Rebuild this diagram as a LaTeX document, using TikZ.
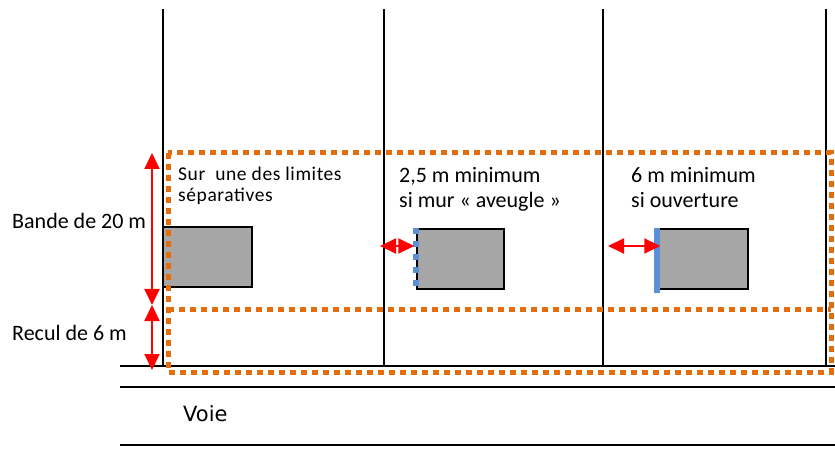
\documentclass[tikz,border=0pt]{standalone}
\usepackage{fontspec}
\setmainfont{Carlito}
\newfontfamily\voiefont{DejaVu Sans}
\newfontfamily\sepfont[LetterSpace=3]{Carlito}
\usetikzlibrary{arrows.meta}
\definecolor{orangelim}{RGB}{228,108,10}
\definecolor{bleumur}{RGB}{91,143,214}
\definecolor{grisbat}{RGB}{166,166,166}
\begin{document}
\begin{tikzpicture}[x=1pt,y=-1pt,>={Triangle[width=15pt,length=16pt]},
    lim/.style={line width=2pt,black},
    bat/.style={draw,line width=1.5pt,fill=grisbat,inner sep=0pt,minimum height=60pt},
    bande/.style={orangelim,line width=5pt,dash pattern=on 6pt off 5pt},
    cote/.style={red,line width=2pt,<->},
    txt/.style={inner sep=0pt,anchor=base west,align=left,font=\fontsize{22pt}{25.5pt}\selectfont}]
    \useasboundingbox (0,0) rectangle (835,462);
    % limites separatives et voie
    \draw[lim] (163,9)--(163,366) (384,9)--(384,366) (603,9)--(603,366) (826,9)--(826,366);
    \draw[lim] (120,366)--(835,366) (120,387)--(835,387) (120,445)--(835,445);
    % constructions
    \node[bat,minimum width=89pt] (bat1) at (207.5,257) {};
    \node[bat,minimum width=87pt] (bat2) at (460.5,259) {};
    \node[bat,minimum width=90pt] (bat3) at (703,259) {};
    \draw[bleumur,line width=6pt,dash pattern=on 6pt off 7pt] (bat2.north west)--(bat2.south west);
    \draw[bleumur,line width=6pt] (bat3.north west)--([yshift=-3pt]bat3.south west);
    % bande et recul
    \draw[bande] (168,153) rectangle (831,372) (168,309)--(831,309);
    \coordinate (haut) at (152,153);
    \coordinate (milieu) at (152,305);
    \coordinate (bas) at (152,370);
    \coordinate (lim2) at (380,246);
    \coordinate (lim3) at (608,246);
    \draw[cote] (haut)--(milieu);
    \draw[cote] (milieu)--(bas);
    \draw[cote] (lim2)--([xshift=-2pt]bat2.west |- lim2);
    \draw[cote] (lim3)--([xshift=3pt]bat3.west |- lim3);
    % textes
    \node[txt] (bande) at (12,229) {Bande de 20 m};
    \node[txt] (recul) at (12,340) {Recul de 6 m};
    \node[txt,font=\fontsize{19.5pt}{21pt}\sepfont] (sur) at (178,202) {Sur\ \ une des limites\\séparatives};
    \node[txt] (aveugle) at (399,208) {2,5 m minimum\\si mur « aveugle »};
    \node[txt] (ouverture) at (631,208) {6 m minimum\\si ouverture};
    \node[txt,font=\fontsize{21pt}{25pt}\voiefont] (voie) at (183,421) {Voie};
\end{tikzpicture}
\end{document}
